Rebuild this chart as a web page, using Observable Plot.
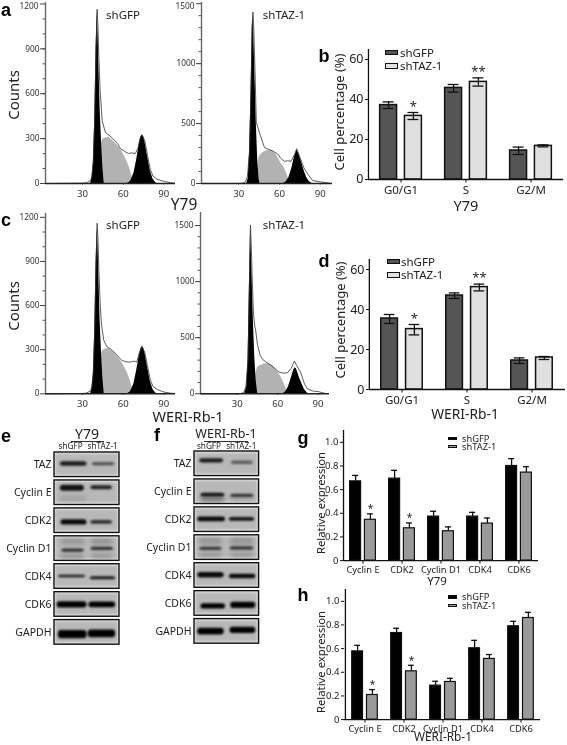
<!DOCTYPE html>
<html><head><meta charset="utf-8">
<script src="https://cdn.jsdelivr.net/npm/d3@7"></script>
<script src="https://cdn.jsdelivr.net/npm/@observablehq/plot@0.6"></script>
<style>
html,body{margin:0;padding:0;background:#fff}
#page{position:relative;width:567px;height:745px;overflow:hidden;background:#fff;font-family:"Noto Sans",sans-serif;color:#222;filter:blur(.3px)}
.lbl{position:absolute;white-space:nowrap;line-height:1;transform-origin:center}
.swatch{position:absolute;box-sizing:border-box;border:1.3px solid #111}
.soft{filter:blur(1.1px)}
.softer{filter:blur(2px)}
</style></head><body><div id="page"></div>
<script>
// ---------- flow cytometry histograms: [channel, counts]
const flowXTicks=[30,60,90];
const aG1=[[36,0],[37,40],[38,140],[39,420],[40,900],[40.8,1150],[41.5,1000],[42,820],[43,500],[44,280],[45,110],[46,0]];
const aS=[[43,150],[44,270],[45,295],[47,305],[49,308],[51,298],[53,280],[55,262],[57,240],[59,215],[61,180],[63,145],[65,95],[66.5,45],[67.5,0]];
const aG2=[[63,0],[65,10],[66,25],[68,70],[70,160],[72,270],[73,310],[74,325],[75,315],[76,280],[78,180],[80,85],[82,30],[84,5],[85,0]];
const aLine=[[3,0],[30,2],[33,5],[36,20],[37,50],[38,145],[39,430],[40,910],[40.8,1165],[41.5,1030],[42,850],[43,620],[44,490],[44.5,420],[46,370],[47,340],[50,320],[54,285],[56,265],[58,232],[60,222],[62,210],[64,200],[66,205],[69,200],[71,240],[72.5,300],[74,325],[76,285],[78,185],[80,95],[82,50],[85,28],[90,15],[95,5],[98,2]];
const bG1=[[36,0],[37,40],[38,250],[39,700],[40,1300],[40.5,1400],[41,1300],[42,900],[43,500],[44,200],[45,40],[45.6,0]];
const bS=[[44,100],[45,220],[47,250],[49,265],[51,275],[53,278],[55,270],[57,250],[59,215],[61,172],[63,140],[65,95],[67,30],[67.8,0]];
const bG2=[[63,0],[65,15],[67,50],[69,120],[71,220],[72.5,270],[73,275],[74,255],[76,190],[78,110],[80,50],[82,15],[84,0]];
const bLine=[[3,0],[30,0],[33,3],[35,15],[36.5,60],[38,270],[39,720],[40,1320],[40.5,1430],[41,1340],[42,950],[42.8,600],[43,510],[46,400],[49,300],[52,285],[55,272],[58.8,245],[61,210],[63.6,185],[66,190],[68.5,185],[71,240],[72.7,290],[75,220],[78,130],[80.7,80],[84.4,25],[89,15],[97,3]];
const cG1=[[36,0],[37,40],[38,140],[39,420],[40,890],[40.8,1130],[41.5,1000],[42,820],[43,500],[44,280],[45,110],[46,0]];
const cS=[[43,150],[44,270],[45,295],[47,305],[49,308],[51,298],[53,280],[55,262],[57,240],[59,215],[61,180],[63,145],[65,95],[66.5,45],[67.5,0]];
const cG2=[[63,0],[65,10],[66,25],[68,70],[70,160],[72,265],[73,305],[74,322],[75,312],[76,280],[78,180],[80,85],[82,30],[84,5],[85,0]];
const cLine=[[3,0],[30,2],[33,5],[36,20],[37,50],[38,145],[39,430],[40,900],[40.8,1160],[41.5,1030],[42,850],[43,620],[44,470],[45.7,363],[48,320],[50.6,306],[55,268],[59,227],[62,218],[65,215],[68,222],[70,215],[72,280],[74,320],[76,280],[78,185],[80,95],[82,50],[85,30],[90,12],[95,4],[98,2]];
const dG1=[[35.6,0],[37,60],[38,300],[39,950],[39.8,1450],[40.5,1250],[41,1050],[42,640],[43,330],[44,120],[45.2,0]];
const dS=[[43,100],[44,190],[45,235],[47,250],[49,262],[51,268],[53,268],[55,258],[57,240],[59,215],[61,180],[63,138],[65,85],[67,20],[67.6,0]];
const dG2=[[64,0],[66,18],[68,60],[70,135],[72,215],[73,232],[74,220],[76,150],[78,90],[80,35],[82,8],[83,0]];
const dLine=[[3,0],[30,0],[33,3],[35,15],[36.5,70],[38,310],[39,960],[39.8,1503],[40.5,1280],[41,1080],[42,720],[43,600],[43.5,580],[45,440],[47,342],[49,305],[52,277],[55,255],[58,225],[61,193],[64,185],[67,185],[70,225],[72.4,292],[74,255],[77,193],[80,85],[82,45],[86,25],[90,20],[95,4]];

// ---------- cell-cycle bars
const phases=["G0/G1","S","G2/M"];
const y79Gfp=[37.2,45.8,14.5], y79GfpLo=[35.5,43.7,12.5], y79GfpHi=[38.8,47.5,16.2];
const y79Taz=[31.8,48.8,16.8], y79TazLo=[30,46.7,16.3], y79TazHi=[33.5,50.8,17.3];
const y79Stars=["*","**",""];
const weriGfp=[35.5,47,14.5], weriGfpLo=[33,45.5,13], weriGfpHi=[37.5,48.3,15.8];
const weriTaz=[30.2,51.2,16], weriTazLo=[27.3,49.3,15], weriTazHi=[32.5,52.7,16.5];

// ---------- relative expression bars
const proteinsQ=["Cyclin E","CDK2","Cyclin D1","CDK4","CDK6"];
const gGfp=[.67,.693,.372,.372,.80], gGfpHi=[.72,.763,.417,.408,.862];
const gTaz=[.345,.273,.248,.313,.744], gTazHi=[.395,.318,.285,.36,.794];
const gStars=["*","*","","",""];
const hGfp=[.577,.732,.287,.603,.789], hGfpHi=[.628,.772,.324,.67,.831];
const hTaz=[.208,.408,.318,.513,.859], hTazHi=[.254,.459,.349,.55,.907];
const hStars=["*","*","","",""];

// ---------- western blots: [row, lane start %, lane end %, band centre %, thickness %, darkness]
const blotProteins=["TAZ","Cyclin E","CDK2","Cyclin D1","CDK4","CDK6","GAPDH"];
const eBands=[[0,9,50,47,18,.85],[0,58,93,48,12,.6],[1,9,46,32,24,.9],[1,56,89,30,16,.82],[2,10,50,57,22,.95],[2,56,89,57,15,.75],
[3,11,46,58,13,.75],[3,56,91,51,13,.75],[4,6,48,50,11,.85],[4,55,94,57,13,.88],[5,4,50,52,25,1],[5,53,94,52,23,1],[6,6,50,59,33,1],[6,52,94,56,31,1]];
const fBands=[[0,8,45,38,17,.85],[0,57,91,46,14,.5],[1,10,47,64,15,.9],[1,56,92,67,13,.7],[2,5,48,49,19,.95],[2,54,93,49,15,.9],
[3,8,43,55,13,.7],[3,55,92,54,14,.7],[4,5,46,49,22,.95],[4,54,95,54,19,.95],[5,10,48,62,22,1],[5,56,95,58,25,1],[6,5,46,51,27,1],[6,55,95,46,25,1]];
const eFaint=[[1,8,50,75,18,.15],[3,10,47,22,22,.2],[3,57,90,22,22,.22],[3,10,47,85,18,.22],[3,57,90,82,18,.2]];
const fFaint=[[1,10,47,83,16,.45],[1,56,92,82,10,.2],[3,8,43,25,30,.18],[3,56,92,25,30,.18],[3,8,43,82,16,.22],[3,56,92,82,16,.22]];
const blotLanes=["shGFP","shTAZ-1"];

const page=document.getElementById("page");
function put(plot,left,top){
  plot.style.position="absolute";plot.style.left=left+"px";plot.style.top=top+"px";
  plot.style.background="transparent";plot.style.overflow="visible";page.appendChild(plot);
}
function label(text,x,y,size,opt={}){
  const s=document.createElement("div");s.className="lbl";s.textContent=text;
  s.style.left=x+"px";s.style.top=y+"px";s.style.fontSize=size+"px";
  s.style.transform=`translate(-50%,-50%)${opt.rotate?` rotate(${opt.rotate}deg)`:""}`;
  if(opt.bold){s.style.fontWeight="700";s.style.fontFamily='"Liberation Sans",sans-serif';s.style.color="#000"}
  page.appendChild(s);
}
function swatch(x,y,w,h,fill){
  const s=document.createElement("div");s.className="swatch";
  Object.assign(s.style,{left:x+"px",top:y+"px",width:w+"px",height:h+"px",background:fill});page.appendChild(s);
}
function minorTicks(top,step){const t=[];for(let v=step;v<top;v+=step)t.push(v);return t}

function flow({left,right,top,bottom,xDomain,yTop,yTicks,minor,G1,S,G2,line,name,nameX,nameY,topDy=0}){
  const pad=32,W=right-left+pad+6,H=bottom-top+20;
  const xy={x:d=>d[0],y:d=>d[1]};
  const tickFont={fontSize:8.3,fontFamily:"Noto Sans",fill:"#333"};
  const last=yTicks[yTicks.length-1], rest=yTicks.slice(0,-1);
  put(Plot.plot({width:W,height:H,marginLeft:pad,marginRight:6,marginTop:0,marginBottom:20,
    x:{domain:xDomain},y:{domain:[0,yTop]},
    marks:[
      Plot.axisY(minor,{anchor:"left",tickSize:2.5,tickFormat:()=>"",label:null,stroke:"#555"}),
      Plot.axisY(rest,{anchor:"left",tickSize:5,tickPadding:1,label:null,tickFormat:"d",stroke:"#444",...tickFont}),
      Plot.axisY([last],{anchor:"left",tickSize:5,tickFormat:()=>"",label:null,stroke:"#444"}),
      Plot.text([last],{y:d=>d,x:xDomain[0],dx:-7,dy:topDy,text:d=>String(d),textAnchor:"end",...tickFont}),
      Plot.axisX(flowXTicks,{tickSize:1.5,tickPadding:5,label:null,fontSize:9.6,fontFamily:"Noto Sans",fill:"#333",stroke:"#444"}),
      Plot.areaY(S,{...xy,fill:"#b2b2b2"}),
      Plot.areaY(G1,{...xy,fill:"#000"}),
      Plot.areaY(G2,{...xy,fill:"#000"}),
      Plot.lineY(line,{...xy,stroke:"#333",strokeWidth:.8}),
      Plot.ruleY([0],{stroke:"#222",strokeWidth:1.4}),
      Plot.ruleX([xDomain[0]],{stroke:"#666",strokeWidth:1.4})
    ]}),left-pad,top);
  label(name,nameX,nameY,11.5);
}
flow({left:45,right:175,top:2,bottom:183,xDomain:[2.7,98.6],yTop:1210,yTicks:[0,300,600,900,1200],minor:minorTicks(1200,100),G1:aG1,S:aS,G2:aG2,line:aLine,name:"shGFP",nameX:123,nameY:15,topDy:2.5});
flow({left:201,right:332,top:2,bottom:183,xDomain:[2.7,99],yTop:1510,yTicks:[0,500,1000,1500],minor:minorTicks(1500,100),G1:bG1,S:bS,G2:bG2,line:bLine,name:"shTAZ-1",nameX:284,nameY:15,topDy:2.5});
flow({left:45,right:175,top:213,bottom:393.3,xDomain:[2.7,98.6],yTop:1226,yTicks:[0,300,600,900,1200],minor:minorTicks(1200,100),G1:cG1,S:cS,G2:cG2,line:cLine,name:"shGFP",nameX:123,nameY:225});
flow({left:200,right:329,top:212,bottom:393.3,xDomain:[2.7,98.5],yTop:1616,yTicks:[0,500,1000,1500],minor:minorTicks(1600,100),G1:dG1,S:dS,G2:dG2,line:dLine,name:"shTAZ-1",nameX:284,nameY:225});

function barPanel({left,right,top,bottom,cats,gfp,gfpLo,gfpHi,taz,tazLo,tazHi,stars,starPad,yTop,yTicks,yFmt,offset,barW,capW,fill0,fill1,tickFont,catFont,catPad,starFont,sw}){
  const padL=26,padB=18,W=right-left+padL+4,H=bottom-top+padB;
  const rows=(v,lo,hi,st)=>cats.map((c,i)=>({c,v:v[i],lo:lo?lo[i]:v[i],hi:hi[i],star:st?st[i]:""}));
  const s0=rows(gfp,gfpLo,gfpHi),s1=rows(taz,tazLo,tazHi,stars);
  const band=(right-left)/cats.length;
  const inset=(band-barW)/2,capI=(band-capW)/2;
  const series=(data,dx,fill)=>[
    Plot.ruleX(data,{x:"c",y1:"v",y2:"hi",dx,stroke:"#111",strokeWidth:1.3}),
    Plot.tickY(data,{x:"c",y:"hi",dx,insetLeft:capI,insetRight:capI,stroke:"#111",strokeWidth:1.3}),
    Plot.barY(data,{x:"c",y:"v",dx,insetLeft:inset,insetRight:inset,fill,stroke:"#111",strokeWidth:sw}),
    ...(gfpLo?[Plot.ruleX(data,{x:"c",y1:"lo",y2:"v",dx,stroke:"#111",strokeWidth:1.3}),
      Plot.tickY(data,{x:"c",y:"lo",dx,insetLeft:capI,insetRight:capI,stroke:"#111",strokeWidth:1.3})]:[])
  ];
  put(Plot.plot({width:W,height:H,marginLeft:padL,marginRight:4,marginTop:0,marginBottom:padB,
    x:{domain:cats,padding:0},y:{domain:[0,yTop]},
    marks:[
      Plot.axisY(yTicks,{anchor:"left",tickSize:3,tickPadding:2,label:null,tickFormat:yFmt,fontSize:tickFont,fontFamily:"Noto Sans",fill:"#222",stroke:"#111"}),
      Plot.axisX({tickSize:3.5,tickPadding:catPad,label:null,fontSize:catFont,fontFamily:"Noto Sans",fill:"#222",stroke:"#111"}),
      ...series(s0,-offset,fill0),
      ...series(s1,offset,fill1),
      Plot.text(s1.filter(d=>d.star),{x:"c",y:"hi",text:"star",dx:offset,dy:-starPad,fontSize:starFont,fontFamily:"Noto Sans",fill:"#222",lineAnchor:"middle"}),
      Plot.ruleY([0],{stroke:"#111",strokeWidth:1.3}),
      Plot.ruleX([0],{x:()=>cats[0],dx:-band/2,stroke:"#111",strokeWidth:1.3})
    ]}),left-padL,top);
}
const pct={yTop:65,yTicks:[0,20,40,60],yFmt:d3.format("d"),offset:12.4,barW:17,capW:11,fill0:"#555",fill1:"#e0e0e0",tickFont:12.5,catFont:11.5,catPad:3,starFont:13,starPad:6,sw:1.5};
barPanel({left:367.5,right:562.7,top:49.3,bottom:179.3,cats:phases,gfp:y79Gfp,gfpLo:y79GfpLo,gfpHi:y79GfpHi,taz:y79Taz,tazLo:y79TazLo,tazHi:y79TazHi,stars:y79Stars,...pct});
barPanel({left:368.8,right:564.8,top:259.3,bottom:389.3,cats:phases,gfp:weriGfp,gfpLo:weriGfpLo,gfpHi:weriGfpHi,taz:weriTaz,tazLo:weriTazLo,tazHi:weriTazHi,stars:y79Stars,...pct});
const rel={yTop:1.1,yTicks:[0,.2,.4,.6,.8,1],yFmt:d=>d===0?"0":d3.format(".1f")(d),offset:7.4,barW:11,capW:6,fill0:"#000",fill1:"#9a9a9a",tickFont:9.5,catFont:9.3,catPad:2,starFont:10,starPad:5,sw:1.2};
barPanel({left:343.4,right:538.4,top:430.2,bottom:560.3,cats:proteinsQ,gfp:gGfp,gfpHi:gGfpHi,taz:gTaz,tazHi:gTazHi,stars:gStars,...rel});
barPanel({left:344.2,right:540.2,top:588.9,bottom:719,cats:proteinsQ,gfp:hGfp,gfpHi:hGfpHi,taz:hTaz,tazHi:hTazHi,stars:hStars,...rel});

function blot({left,right,top,bands,faint,labelFont}){
  const padL=50,W=right-left+padL+2,H=200;
  const rowH=.88;
  const rowData=blotProteins.map((p,i)=>({p,i}));
  const bandXY={x1:d=>d[1],x2:d=>d[2],y1:d=>d[0]+(d[3]-d[4]/2)/100*rowH,y2:d=>d[0]+(d[3]+d[4]/2)/100*rowH};
  put(Plot.plot({width:W,height:H,marginLeft:padL,marginRight:2,marginTop:0,marginBottom:0,
    x:{domain:[0,100],axis:null},y:{domain:[0,7.16],reverse:true,axis:null},
    opacity:{domain:[0,1],range:[0,1]},
    marks:[
      Plot.rect(rowData,{x1:0,x2:100,y1:d=>d.i,y2:d=>d.i+rowH,fill:"#e4e4e4"}),
      Plot.rect(rowData,{x1:2,x2:98,y1:d=>d.i+.06,y2:d=>d.i+rowH-.06,fill:"#b8b8b8",className:"soft"}),
      Plot.rect(faint,{...bandXY,fill:"#000",fillOpacity:d=>d[5],className:"softer",rx:3}),
      Plot.rect(bands,{...bandXY,fill:"#000",fillOpacity:d=>d[5],className:"soft",rx:3}),
      Plot.rect(rowData,{x1:0,x2:100,y1:d=>d.i,y2:d=>d.i+rowH,fill:"none",stroke:"#111",strokeWidth:1.4}),
      Plot.text(rowData,{x:0,y:d=>d.i+rowH/2,text:"p",dx:-3,textAnchor:"end",fontSize:labelFont,fontFamily:"Noto Sans",fill:"#222"})
    ]}),left-padL,top);
}
blot({left:53.7,right:118.7,top:452,bands:eBands,faint:eFaint,labelFont:10.5});
blot({left:193.7,right:258.3,top:451.3,bands:fBands,faint:fFaint,labelFont:10.5});

// titles and legends
[["a",6,10],["b",324,56],["c",6,220],["d",324,261],["e",6,436],["f",157,435],["g",303,438],["h",303,595]].forEach(([t,x,y])=>label(t,x,y,18,{bold:true}));
label("Counts",13,95,15,{rotate:-90});
label("Counts",13,306,15,{rotate:-90});
label("Cell percentage (%)",339,112,13,{rotate:-90});
label("Cell percentage (%)",340,320,13,{rotate:-90});
label("Relative expression",321,503,11.3,{rotate:-90});
label("Relative expression",321,662,11.3,{rotate:-90});
label("Y79",184,205,15.5);
label("WERI-Rb-1",188,416,14.5);
label("Y79",466,205,14.5);
label("WERI-Rb-1",465,414,13.8);
label("Y79",437,581,11.5);
label("WERI-Rb-1",443,737,11.8);
label("Y79",87,434,14);
label("WERI-Rb-1",226,434,12.5);
label(blotLanes[0],70.7,446.3,8.2);label(blotLanes[1],102.7,446.3,8.2);
label(blotLanes[0],209,445.6,8.2);label(blotLanes[1],241.3,445.6,8.2);
const ul=(x,w,y)=>{const s=document.createElement("div");Object.assign(s.style,{position:"absolute",left:x+"px",top:y+"px",width:w+"px",height:"1px",background:"#333"});page.appendChild(s)};
ul(71,33,441);ul(204,44,441);
function legend(x,y,dy,sw,sh,tx,size,f0,f1){
  swatch(x,y-sh/2,sw,sh,f0);swatch(x,y+dy-sh/2,sw,sh,f1);
  blotLanes.forEach((t,i)=>{const s=document.createElement("div");s.className="lbl";s.textContent=t;
    Object.assign(s.style,{left:tx+"px",top:(y+i*dy)+"px",fontSize:size+"px",transform:"translateY(-50%)"});page.appendChild(s)});
}
legend(385,52.5,13.3,13,5.5,400,11.5,"#555","#e0e0e0");
legend(387,261.5,13.5,13,5.5,401,11.5,"#555","#e0e0e0");
legend(447.5,438.5,8,9.5,3.5,462,9.3,"#000","#9a9a9a");
legend(447.5,597,8.5,9.5,3.5,462,9.3,"#000","#9a9a9a");
</script></body></html>
